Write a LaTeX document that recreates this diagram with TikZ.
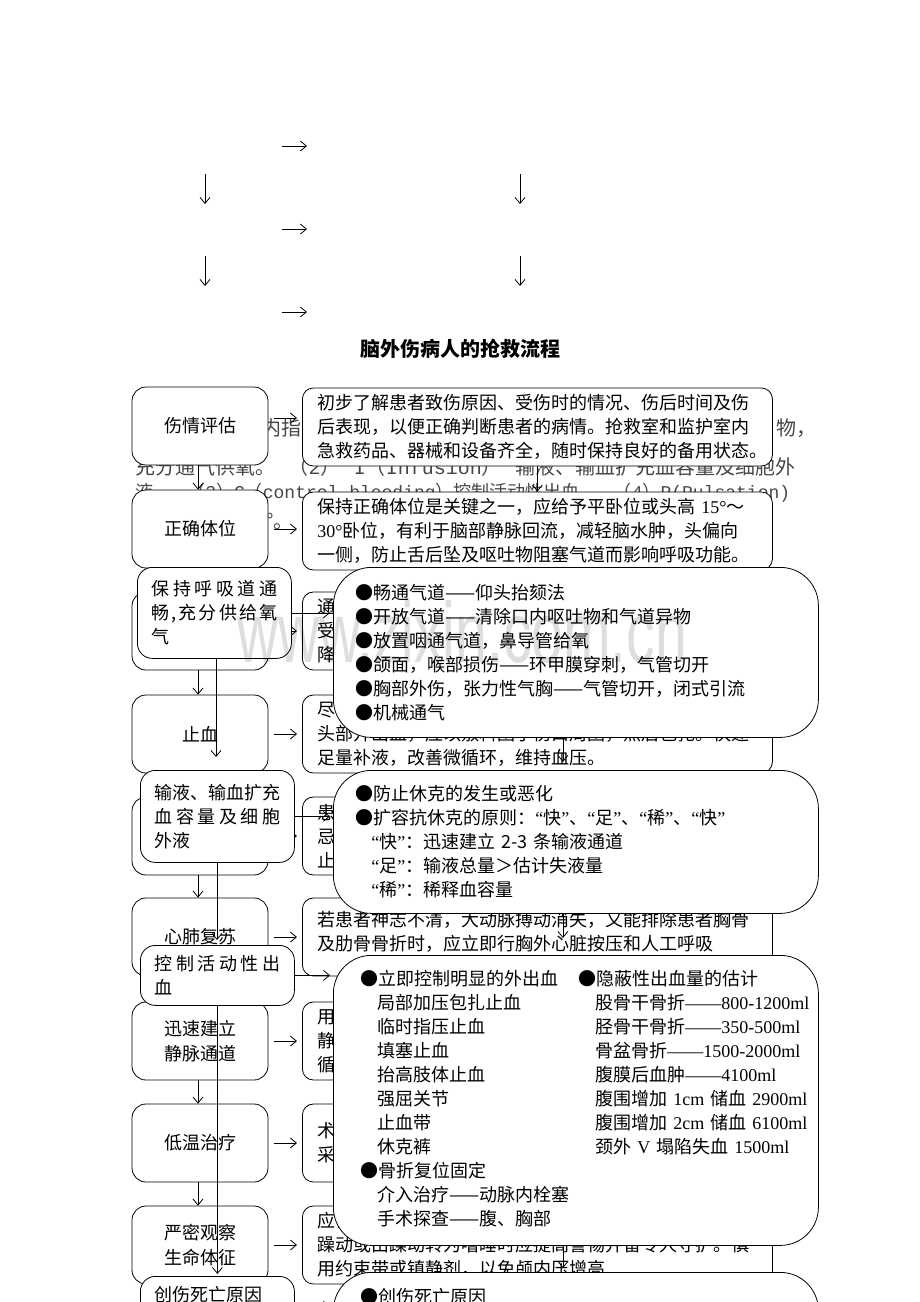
\documentclass[tikz,border=0pt]{standalone}
\usepackage{fontspec}
\setmainfont{Liberation Serif}
\setmonofont{Liberation Mono}
\newfontfamily\cjk{Noto Sans CJK SC}
\newfontfamily\wmfont{Liberation Sans}
\usetikzlibrary{arrows.meta}
\newcommand{\lat}[1]{{\rmfamily #1}}
\newcommand{\lmo}[1]{{\ttfamily #1}}
\newcommand{\jl}[1]{\makebox[126pt][s]{#1}}
\newcommand{\q}[1]{\lat{“}#1\lat{”}}
\begin{document}
\begin{tikzpicture}[x=1pt,y=-1pt,
  arr/.style={-{Straight Barb[length=6pt,width=10pt]}, line width=0.8pt},
  lbox/.style={draw, line width=0.8pt, fill=white, rounded corners=14pt, minimum width=136pt, minimum height=78pt, align=center, inner sep=0pt, font=\cjk\fontsize{18}{25}\selectfont},
  rbox/.style={draw, line width=0.8pt, fill=white, rounded corners=11pt, text width=440pt, inner xsep=15pt, inner ysep=0pt, minimum height=78pt, align=left, anchor=west, font=\cjk\fontsize{18}{24}\selectfont},
  rtext/.style={anchor=north west, text width=440pt, inner sep=0pt, align=left, font=\cjk\fontsize{18}{24}\selectfont},
  obox/.style={draw, line width=0.8pt, fill=white, rounded corners=15pt, anchor=north west, align=left, inner ysep=0pt, inner xsep=14pt, text width=126pt, font=\cjk\fontsize{18}{24}\selectfont},
  bbox/.style={draw, line width=0.8pt, fill=white, rounded corners=38pt, anchor=north west, minimum width=485pt, align=left, inner ysep=0pt, font=\cjk\fontsize{18}{24}\selectfont},
  bg/.style={text=black!72, anchor=west, inner sep=0pt},
]
\useasboundingbox (0,0) rectangle (920,1302);
\clip (0,0) rectangle (920,1302);
\fill[white] (0,0) rectangle (920,1302);

% background grey text
\node[bg, font=\cjk\fontsize{20}{24}\selectfont] (g1) at (261,428) {内指};
\node[bg, font=\cjk\fontsize{20}{24}\selectfont] (g2) at (776,428) {物，};
\node[bg, font=\cjk\fontsize{20}{24}\selectfont] (g3) at (135,467) {\makebox[660pt][s]{充分通气供氧。\hfill（\lmo{2}）\hfill\lmo{I}（\lmo{Infusion}）\hfill 输液、输血扩充血容量及细胞外}};
\node[bg, font=\cjk\fontsize{18}{24}\selectfont] (g4) at (135,493) {\makebox[655pt][s]{液\hfill（\lmo{3}）\lmo{C}（\lmo{control bleeding}）控制活动性出血\hfill（\lmo{4}）\lmo{P(Pulsation)}}};
\node[bg, font=\cjk\fontsize{20}{24}\selectfont] (g5) at (266,521) {°。};

% top empty flow arrows
\coordinate (ta1) at (282,146); \coordinate (tb1) at (307,146);
\coordinate (ta2) at (282,229); \coordinate (tb2) at (307,229);
\coordinate (ta3) at (282,312); \coordinate (tb3) at (307,312);
\coordinate (da1) at (205,174); \coordinate (db1) at (205,204);
\coordinate (da2) at (520,174); \coordinate (db2) at (520,204);
\coordinate (da3) at (205,256); \coordinate (db3) at (205,286);
\coordinate (da4) at (520,256); \coordinate (db4) at (520,286);
\foreach \i in {1,2,3} \draw[arr] (ta\i) -- (tb\i);
\foreach \i in {1,2,3,4} \draw[arr] (da\i) -- (db\i);

\node[font=\cjk\bfseries\fontsize{20}{24}\selectfont] (title) at (460,349) {脑外伤病人的抢救流程};

% first layer
\node[lbox] (l1) at (200,426) {伤情评估};
\node[lbox] (l2) at (200,529) {正确体位};
\node[lbox] (l3) at (200,631) {};
\node[lbox] (l4) at (200,734) {止血};
\node[lbox] (l5) at (200,836) {};
\node[lbox] (l6) at (200,937) {心肺复苏};
\node[lbox] (l7) at (200,1041) {迅速建立\\静脉通道};
\node[lbox] (l8) at (200,1143) {低温治疗};
\node[lbox] (l9) at (200,1245) {严密观察\\生命体征};

\node[rbox] (r1) at (302,427) {初步了解患者致伤原因、受伤时的情况、伤后时间及伤\\后表现，以便正确判断患者的病情。抢救室和监护室内\\急救药品、器械和设备齐全，随时保持良好的备用状态。};
\node[rbox] (r2) at (302,531) {保持正确体位是关键之一，应给予平卧位或头高 \lat{15°}～\\\lat{30°}卧位，有利于脑部静脉回流，减轻脑水肿，头偏向\\一侧，防止舌后坠及呕吐物阻塞气道而影响呼吸功能。};
\node[rbox] (r3) at (302,631) {通\\受\\降};
\node[rbox] (r4) at (302,734) {尽\\头部开出血，应以敷料围于伤口周围，然后包扎。快速\\足量补液，改善微循环，维持血压。};
\node[rbox] (r5) at (302,836) {患\\忌\\止};
\node[rbox] (r6) at (302,937) {};
\node[rtext] (r6t) at (317,911) {若患者神志不清，大动脉搏动消失，又能排除患者胸骨\\及肋骨骨折时，应立即行胸外心脏按压和人工呼吸};
\node[rbox] (r7) at (302,1041) {用\\静\\循};
\node[rbox] (r8) at (302,1143) {术\\采};
\node[rbox] (r9) at (302,1245) {应密\\躁动或由躁动转为嗜睡时应提高警惕并留专人守护。慎\\用约束带或镇静剂，以免颅内压增高};

\draw[arr,shorten <=6pt,shorten >=5pt] ([yshift=8pt]l1.east) -- ([yshift=8pt]l1.east -| r1.west);
\foreach \i in {2,...,9} \draw[arr,shorten <=6pt,shorten >=5pt] (l\i.east) -- (l\i.east -| r\i.west);
\foreach \i/\j in {1/2,2/3,3/4,4/5,5/6,6/7,7/8,8/9} {
  \draw[arr] ([xshift=-2pt]l\i.south) -- ([xshift=-2pt]l\j.north);
  \draw[arr] (r\i.south) -- (r\j.north);
}

% second layer
\node[obox, minimum height=91pt] (o1) at (137,567) {\jl{保\hfill 持\hfill 呼\hfill 吸\hfill 道\hfill 通}\\\jl{畅\hfill ,\hfill 充\hfill 分\hfill 供\hfill 给\hfill 氧}\\气};
\node[obox, minimum height=92pt] (o2) at (140,770) {输液、输血扩充\\\jl{血\hfill 容\hfill 量\hfill 及\hfill 细\hfill 胞}\\外液};
\node[obox, minimum height=60pt] (o3) at (140,945) {\jl{控\hfill 制\hfill 活\hfill 动\hfill 性\hfill 出}\\血};
\node[obox, minimum height=60pt] (o4) at (140,1276) {创伤死亡原因\\\mbox{}};

\node[bbox, minimum height=170pt, text width=441pt, inner xsep=22pt] (A) at (333,567) {%
●畅通气道——仰头抬颏法\\
●开放气道——清除口内呕吐物和气道异物\\
●放置咽通气道，鼻导管给氧\\
●颌面，喉部损伤——环甲膜穿刺，气管切开\\
●胸部外伤，张力性气胸——气管切开，闭式引流\\
●机械通气};
\node[bbox, minimum height=143pt, text width=441pt, inner xsep=22pt] (B) at (333,770) {%
●防止休克的发生或恶化\\
●扩容抗休克的原则：\q{快}、\q{足}、\q{稀}、\q{快}\\
\hspace*{16pt}\q{快}：迅速建立 2-3 条输液通道\\
\hspace*{16pt}\q{足}：输液总量＞估计失液量\\
\hspace*{16pt}\q{稀}：稀释血容量};
\node[bbox, minimum height=290pt, text width=431pt, inner xsep=27pt] (C) at (333,955) {%
\begin{tabular}{@{}p{218pt}@{}l@{}}
●立即控制明显的外出血 & ●隐蔽性出血量的估计\\
\hspace*{17pt}局部加压包扎止血 & \hspace*{17pt}股骨干骨折\lat{——800-1200ml}\\
\hspace*{17pt}临时指压止血 & \hspace*{17pt}胫骨干骨折\lat{——350-500ml}\\
\hspace*{17pt}填塞止血 & \hspace*{17pt}骨盆骨折\lat{——1500-2000ml}\\
\hspace*{17pt}抬高肢体止血 & \hspace*{17pt}腹膜后血肿\lat{——4100ml}\\
\hspace*{17pt}强屈关节 & \hspace*{17pt}腹围增加 \lat{1cm} 储血 \lat{2900ml}\\
\hspace*{17pt}止血带 & \hspace*{17pt}腹围增加 \lat{2cm} 储血 \lat{6100ml}\\
\hspace*{17pt}休克裤 & \hspace*{17pt}颈外 \lat{V} 塌陷失血 \lat{1500ml}\\
●骨折复位固定 & \\
\hspace*{17pt}介入治疗——动脉内栓塞 & \\
\hspace*{17pt}手术探查——腹、胸部 & \\
\end{tabular}};
\node[bbox, text width=431pt, inner xsep=27pt, inner ysep=16pt] (D) at (333,1272) {●创伤死亡原因\\\mbox{}\\\mbox{}};

\draw[arr,shorten >=3pt] (o1.east) -- (o1.east -| A.west);
\draw[arr,shorten >=3pt] (o2.east) -- (o2.east -| B.west);
\draw[arr,shorten >=3pt] (o3.east) -- (o3.east -| C.west);
\draw[arr,shorten >=3pt] (o4.east) -- (o4.east -| D.west);

\coordinate (e1) at (216,757);
\draw[arr] (o1.south -| e1) -- (e1);
\coordinate (e2) at (217,940);
\draw[arr] (o2.south -| e2) -- (e2);
\draw[arr,shorten >=2pt] (o3.south) -- (o4.north);

\draw[arr,shorten >=8pt] ([xshift=-13pt]A.south) -- ([xshift=-13pt]B.north);
\draw[arr,shorten >=17pt] ([xshift=-13pt]B.south) -- ([xshift=-13pt]C.north);
\draw[arr,shorten >=4pt] ([xshift=-13pt]C.south) -- ([xshift=-13pt]D.north);

% watermark
\begin{scope}[blend mode=multiply]
\node[text=black!13, font=\wmfont\fontsize{57}{60}\selectfont, inner sep=0pt] (wm) at (462,632) {\scalebox{1}[1.5]{www.zixin.com.cn}};
\end{scope}
\end{tikzpicture}
\end{document}
